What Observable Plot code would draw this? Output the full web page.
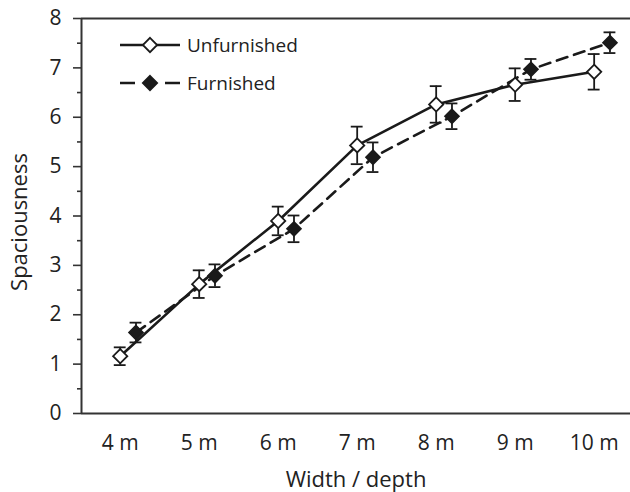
<!DOCTYPE html>
<html>
<head>
<meta charset="utf-8">
<script src="https://cdn.jsdelivr.net/npm/d3@7"></script>
<script src="https://cdn.jsdelivr.net/npm/@observablehq/plot@0.6"></script>
<style>
  html, body { margin: 0; padding: 0; background: #fff; }
  #wrap { position: relative; width: 630px; height: 492px; }
  #wrap svg { position: absolute; left: 0; top: 0; }
  text { font-family: "Open Sans", sans-serif; }
</style>
</head>
<body>
<div id="wrap"></div>
<script>
const categories = ["4 m", "5 m", "6 m", "7 m", "8 m", "9 m", "10 m"];
const unfurnished = [1.16, 2.62, 3.90, 5.43, 6.26, 6.66, 6.92];
const unfurnishedErr = [0.18, 0.28, 0.29, 0.38, 0.37, 0.33, 0.36];
const furnished = [1.64, 2.79, 3.74, 5.19, 6.02, 6.97, 7.51];
const furnishedErr = [0.20, 0.23, 0.27, 0.30, 0.26, 0.21, 0.21];
const yTicks = [0, 1, 2, 3, 4, 5, 6, 7, 8];
const yMinorTicks = [0.5, 1.5, 2.5, 3.5, 4.5, 5.5, 6.5, 7.5];
const seriesNames = ["Unfurnished", "Furnished"];

const xDomain = [-0.49, 6.46];
const yDomain = [0, 8];
const dodge = 0.2;      // furnished points shifted right of the category
const capHalf = 0.075;  // half width of error-bar caps (x units)
const ink = "#1a1a1a";
const textColor = "#222222";

const rows = [];
categories.forEach((c, i) => {
  rows.push({series: "Unfurnished", x: i, y: unfurnished[i], e: unfurnishedErr[i]});
  rows.push({series: "Furnished", x: i + dodge, y: furnished[i], e: furnishedErr[i]});
});
const U = rows.filter(d => d.series === "Unfurnished");
const F = rows.filter(d => d.series === "Furnished");
const xIndex = d3.range(categories.length);

const chart = Plot.plot({
  width: 630,
  height: 492,
  marginLeft: 81,
  marginRight: 0,
  marginTop: 18,
  marginBottom: 79,
  style: {fontFamily: "'Open Sans', sans-serif", fontSize: "21px", color: textColor, background: "white"},
  x: {domain: xDomain, axis: null},
  y: {domain: yDomain, axis: null},
  marks: [
    Plot.axisY({ticks: yTicks, tickSize: 8, tickFormat: () => "", label: null, stroke: "#333", strokeWidth: 1.6}),
    Plot.axisY({ticks: yMinorTicks, tickSize: 4, tickFormat: () => "", label: null, stroke: "#333", strokeWidth: 1.6}),
    Plot.text(yTicks, {y: d => d, text: d => String(d), frameAnchor: "left", textAnchor: "end", dx: -20, fontSize: 21, fill: textColor}),
    Plot.text(xIndex, {x: d => d, text: d => categories[d], frameAnchor: "bottom", lineAnchor: "middle", dy: 30, fontSize: 21, fill: textColor}),
    Plot.ruleX([xDomain[0]], {stroke: "#333", strokeWidth: 2}),
    Plot.ruleY([yDomain[0]], {stroke: "#333", strokeWidth: 2}),
    Plot.ruleY([yDomain[1]], {stroke: "#333", strokeWidth: 1.8}),
    Plot.text(["Width / depth"], {frameAnchor: "bottom", lineAnchor: "middle", textAnchor: "middle", dy: 66, fontSize: 22, fill: textColor}),
    Plot.text(["Spaciousness"], {frameAnchor: "left", textAnchor: "middle", lineAnchor: "middle", dx: -62, dy: 6, rotate: -90, fontSize: 22, fill: textColor}),
    Plot.line(U, {x: "x", y: "y", stroke: ink, strokeWidth: 2.6}),
    Plot.line(F, {x: "x", y: "y", stroke: ink, strokeWidth: 2.6, strokeDasharray: "11,7"}),
    Plot.ruleX(rows, {x: "x", y1: d => d.y - d.e, y2: d => d.y + d.e, stroke: ink, strokeWidth: 1.8}),
    Plot.ruleY(rows, {y: d => d.y - d.e, x1: d => d.x - capHalf, x2: d => d.x + capHalf, stroke: ink, strokeWidth: 1.8}),
    Plot.ruleY(rows, {y: d => d.y + d.e, x1: d => d.x - capHalf, x2: d => d.x + capHalf, stroke: ink, strokeWidth: 1.8}),
    Plot.dot(U, {x: "x", y: "y", symbol: "diamond2", r: 6.4, fill: "white", stroke: ink, strokeWidth: 1.8}),
    Plot.dot(F, {x: "x", y: "y", symbol: "diamond2", r: 6.4, fill: ink, stroke: ink, strokeWidth: 1.5})
  ]
});
document.getElementById("wrap").appendChild(chart);

// Legend (overlay)
const leg = d3.select("#wrap").append("svg").attr("width", 630).attr("height", 120);
const diamond = d3.symbol(d3.symbolDiamond2, 130)();
const legendItems = [
  {name: seriesNames[0], y: 45, fill: "white", dash: null},
  {name: seriesNames[1], y: 83, fill: ink, dash: "15,30"}
];
legendItems.forEach(it => {
  const g = leg.append("g");
  g.append("line").attr("x1", 120).attr("x2", 180).attr("y1", it.y).attr("y2", it.y)
    .attr("stroke", ink).attr("stroke-width", 2.6).attr("stroke-dasharray", it.dash);
  g.append("path").attr("d", diamond).attr("transform", `translate(150,${it.y})`)
    .attr("fill", it.fill).attr("stroke", ink).attr("stroke-width", 1.8);
  g.append("text").attr("x", 187).attr("y", it.y).attr("dy", "0.35em")
    .attr("font-size", 19).attr("fill", textColor).text(it.name);
});
</script>
</body>
</html>
